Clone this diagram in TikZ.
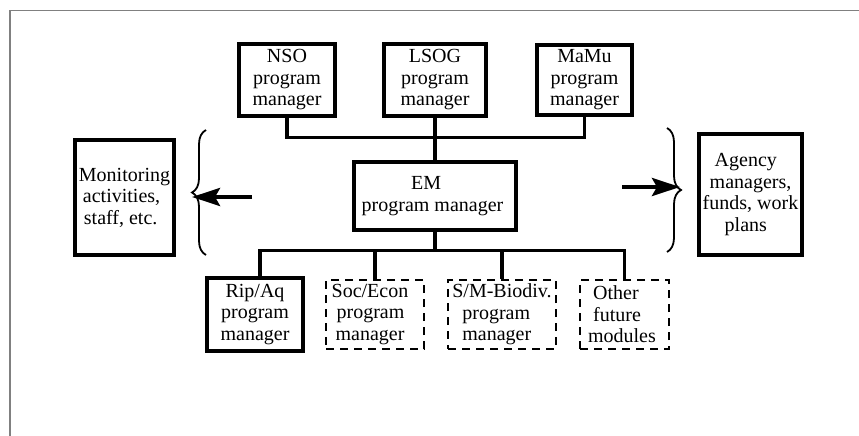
\documentclass[tikz,border=0pt]{standalone}
\usepackage{fontspec}
\setmainfont{Liberation Serif}
\usetikzlibrary{arrows.meta,decorations.pathreplacing}
\begin{document}
\begin{tikzpicture}[x=1pt,y=-1pt,
  txt/.style={font=\fontsize{20}{21.5}\selectfont, align=center, inner sep=0pt},
  box/.style={txt, draw, line width=3.8pt},
  dbox/.style={txt, draw, line width=2pt, dash pattern=on 8pt off 6pt},
  conn/.style={line width=3.5pt},
  bigarrow/.style={line width=4pt, -{Stealth[length=28pt,width=18pt,inset=5pt]}},
  bracestyle/.style={line width=1.8pt, decorate, decoration={brace, amplitude=14pt}},
  frame/.style={draw=black!50, line width=1.5pt}
  ]
\useasboundingbox (0,0) rectangle (859,436);
\draw[frame] (10,436) -- (10,10.7) -- (859,10.7);

\node[box, minimum width=96pt, minimum height=72pt] (nso) at (287,80) {NSO\\program\\manager};
\node[box, minimum width=102pt, minimum height=72pt] (lsog) at (435,80) {LSOG\\program\\manager};
\node[box, minimum width=95pt, minimum height=70pt] (mamu) at (584.5,80) {MaMu\\program\\manager};
\node[box, line width=3.5pt, align=left, minimum width=162pt, minimum height=68pt] (em) at (435,196) {\hspace*{49.5pt}EM\\program manager\hspace*{5pt}};
\node[box, align=left, minimum width=99pt, minimum height=115pt] (mon) at (124.5,197.5) {Monitoring\\\hspace*{4pt}activities,\\\hspace*{5pt}staff, etc.};
\node[box, align=left, minimum width=103pt, minimum height=121pt] (agency) at (750.5,194.5) {\hspace*{12pt}Agency\\\hspace*{7pt}managers,\\funds, work\hspace*{5.5pt}\\\hspace*{22pt}plans};
\node[box, minimum width=96pt, minimum height=73pt] (rip) at (255,314.5) {Rip/Aq\\program\\manager};
\node[dbox, align=left, minimum width=98pt, minimum height=69pt] (soc) at (375,314.5) {Soc/Econ\hspace*{10pt}\\\hspace*{5pt}program\\\hspace*{4pt}manager};
\node[dbox, align=left, minimum width=108pt, minimum height=69pt] (sm) at (502,314.5) {S/M-Biodiv.\\\hspace*{10pt}program\\\hspace*{10pt}manager};
\node[dbox, align=left, minimum width=89pt, minimum height=69pt] (other) at (624.5,314.5) {\hspace*{5pt}Other\\\hspace*{5pt}future\\modules\hspace*{5pt}};

% buses
\coordinate (tb) at (435,137.3);
\coordinate (bb) at (435,250.7);
\draw[conn] (nso.south) -- (nso.south |- tb) -- (mamu.south |- tb) -- (mamu.south);
\draw[conn] (lsog.south) -- (em.north);
\draw[conn] ([xshift=5pt]rip.north) -- ([xshift=5pt]rip.north |- bb) -- (other.north |- bb) -- (other.north);
\draw[conn] (em.south) -- (em.south |- bb);
\draw[conn] (soc.north) -- (soc.north |- bb);
\draw[conn] (sm.north) -- (sm.north |- bb);

% braces and arrows
\coordinate (lbtip) at (192,197);
\coordinate (lbstart) at (252,197);
\coordinate (rbtip) at (680,187);
\coordinate (rbstart) at (622,187);
\draw[bracestyle] (206,255) -- (206,130);
\draw[bracestyle] (667,128) -- (667,252);
\draw[bigarrow] (lbstart) -- (lbtip);
\draw[bigarrow] (rbstart) -- (rbtip);
\end{tikzpicture}
\end{document}
